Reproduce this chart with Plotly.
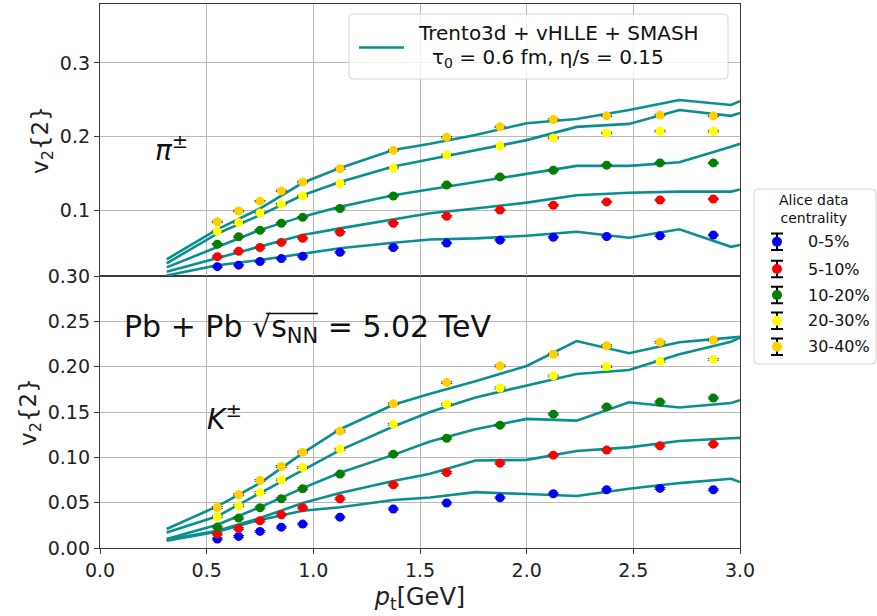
import plotly.graph_objects as go

# ---------------- data ----------------
pt_data = [0.55, 0.65, 0.75, 0.85, 0.95, 1.125, 1.375, 1.625, 1.875, 2.125, 2.375, 2.625, 2.875]
pt_model = [0.3125, 0.55, 0.75, 0.95, 1.125, 1.375, 1.547, 1.76, 2.0, 2.234, 2.48, 2.716, 2.958, 3.0]

centralities = ["0-5%", "5-10%", "10-20%", "20-30%", "30-40%"]
colors = ["blue", "red", "green", "yellow", "#ffd000"]

# pions, ALICE data
pi_data_0_5 = [0.023, 0.025, 0.030, 0.034, 0.037, 0.0425, 0.049, 0.055, 0.059, 0.063, 0.064, 0.065, 0.066]
pi_data_5_10 = [0.0366, 0.044, 0.049, 0.056, 0.0616, 0.0697, 0.082, 0.0914, 0.100, 0.1064, 0.111, 0.1136, 0.115]
pi_data_10_20 = [0.0534, 0.0637, 0.0724, 0.082, 0.090, 0.102, 0.119, 0.134, 0.145, 0.154, 0.161, 0.164, 0.164]
pi_data_20_30 = [0.071, 0.083, 0.096, 0.108, 0.119, 0.136, 0.157, 0.175, 0.187, 0.198, 0.2046, 0.207, 0.207]
pi_data_30_40 = [0.084, 0.0986, 0.112, 0.126, 0.138, 0.156, 0.181, 0.199, 0.213, 0.223, 0.228, 0.229, 0.228]

# pions, model
pi_model_0_5 = [0.011, 0.025, 0.032, 0.041, 0.048, 0.0556, 0.060, 0.0615, 0.065, 0.0705, 0.0624, 0.0738, 0.050, 0.0524]
pi_model_5_10 = [0.016, 0.035, 0.050, 0.066, 0.075, 0.087, 0.0955, 0.102, 0.110, 0.120, 0.1235, 0.125, 0.125, 0.128]
pi_model_10_20 = [0.022, 0.050, 0.073, 0.091, 0.1045, 0.120, 0.128, 0.138, 0.1485, 0.160, 0.160, 0.165, 0.186, 0.190]
pi_model_20_30 = [0.0276, 0.068, 0.093, 0.120, 0.138, 0.159, 0.169, 0.181, 0.195, 0.213, 0.217, 0.236, 0.228, 0.232]
pi_model_30_40 = [0.033, 0.0738, 0.102, 0.137, 0.157, 0.1815, 0.190, 0.202, 0.218, 0.2237, 0.236, 0.2495, 0.2427, 0.248]

# kaons, ALICE data
k_data_0_5 = [0.0099, 0.0128, 0.0183, 0.023, 0.0264, 0.034, 0.043, 0.0496, 0.0554, 0.0598, 0.0642, 0.0657, 0.0642]
k_data_5_10 = [0.0154, 0.0213, 0.030, 0.0367, 0.0444, 0.0543, 0.0697, 0.0833, 0.0936, 0.1024, 0.108, 0.1127, 0.1145]
k_data_10_20 = [0.0231, 0.033, 0.0444, 0.0543, 0.0653, 0.0815, 0.1035, 0.121, 0.1355, 0.1476, 0.1556, 0.161, 0.1655]
k_data_20_30 = [0.0345, 0.0466, 0.0612, 0.0752, 0.0888, 0.109, 0.1365, 0.1586, 0.1765, 0.1898, 0.200, 0.206, 0.208]
k_data_30_40 = [0.0447, 0.0587, 0.0745, 0.0899, 0.1057, 0.1289, 0.159, 0.1824, 0.2008, 0.2137, 0.2231, 0.2269, 0.2294]

# kaons, model
k_model_0_5 = [0.008, 0.018, 0.031, 0.041, 0.045, 0.053, 0.0557, 0.0616, 0.0595, 0.0573, 0.0653, 0.0716, 0.0763, 0.0727]
k_model_5_10 = [0.009, 0.019, 0.033, 0.0496, 0.0606, 0.074, 0.0818, 0.0965, 0.0972, 0.107, 0.111, 0.118, 0.121, 0.1215]
k_model_10_20 = [0.010, 0.0257, 0.045, 0.066, 0.083, 0.1027, 0.1174, 0.131, 0.1424, 0.1405, 0.1608, 0.155, 0.160, 0.163]
k_model_20_30 = [0.017, 0.035, 0.0606, 0.086, 0.108, 0.134, 0.150, 0.166, 0.179, 0.192, 0.1964, 0.2137, 0.2276, 0.232]
k_model_30_40 = [0.021, 0.046, 0.0716, 0.1046, 0.131, 0.158, 0.170, 0.184, 0.2008, 0.2283, 0.2148, 0.2269, 0.232, 0.233]

data_err = 0.001

pi_data = [pi_data_0_5, pi_data_5_10, pi_data_10_20, pi_data_20_30, pi_data_30_40]
pi_model = [pi_model_0_5, pi_model_5_10, pi_model_10_20, pi_model_20_30, pi_model_30_40]
k_data = [k_data_0_5, k_data_5_10, k_data_10_20, k_data_20_30, k_data_30_40]
k_model = [k_model_0_5, k_model_5_10, k_model_10_20, k_model_20_30, k_model_30_40]

# ---------------- geometry helpers ----------------
W, H = 877, 616
ML, MR, MT, MB = 100, 0, 4, 68
PW = W - ML - MR
PH = H - MT - MB


def px(x):
    return (x - ML) / PW


def py(y):
    return (H - MB - y) / PH


FONT = "DejaVu Sans"
TEAL = "#0a8f8f"
GRID = "#b8b8b8"
SPINE = "#3a3a3a"

fig = go.Figure()

# model lines
for vals in pi_model:
    fig.add_trace(go.Scatter(x=pt_model, y=vals, mode="lines", line=dict(color=TEAL, width=2.6),
                             xaxis="x2", yaxis="y2", showlegend=False, hoverinfo="skip"))
for vals in k_model:
    fig.add_trace(go.Scatter(x=pt_model, y=vals, mode="lines", line=dict(color=TEAL, width=2.6),
                             xaxis="x", yaxis="y", showlegend=False, hoverinfo="skip"))

# data points
for vals, c in zip(pi_data, colors):
    fig.add_trace(go.Scatter(x=pt_data, y=vals, mode="markers",
                             marker=dict(color=c, size=9, line=dict(width=0)),
                             error_y=dict(type="constant", value=data_err, color="#333", thickness=1, width=5.5),
                             xaxis="x2", yaxis="y2", showlegend=False))
for vals, c in zip(k_data, colors):
    fig.add_trace(go.Scatter(x=pt_data, y=vals, mode="markers",
                             marker=dict(color=c, size=9, line=dict(width=0)),
                             error_y=dict(type="constant", value=data_err, color="#333", thickness=1, width=5.5),
                             xaxis="x", yaxis="y", showlegend=False))

# legend glyphs for data legend (overlay axes in right margin area)
leg_y = [0.699, 0.543, 0.394, 0.247, 0.099]
fig.add_trace(go.Scatter(x=[0.187] * 5, y=leg_y, mode="markers",
                         marker=dict(color=colors, size=10, line=dict(width=0)),
                         error_y=dict(type="constant", value=0.047, color="black", thickness=2, width=6),
                         xaxis="x3", yaxis="y3", showlegend=False, hoverinfo="skip"))

axis_common = dict(showgrid=True, gridcolor=GRID, gridwidth=1, showline=True, linecolor=SPINE,
                   linewidth=1.3, mirror=True, zeroline=False, ticklen=5, automargin=False,
                   tickcolor=SPINE, tickfont=dict(family=FONT, size=19, color="#222"))

fig.update_layout(
    width=W, height=H,
    margin=dict(l=ML, r=MR, t=MT, b=MB),
    paper_bgcolor="white", plot_bgcolor="white",
    xaxis=dict(domain=[0, px(740)], range=[0, 3], anchor="y", ticks="outside",
               tickvals=[0, 0.5, 1, 1.5, 2, 2.5, 3], ticktext=["0.0", "0.5", "1.0", "1.5", "2.0", "2.5", "3.0"],
               title=dict(text="<i>p</i><sub>t</sub>[GeV]", font=dict(family=FONT, size=24, color="#222"),
                          standoff=8),
               **axis_common),
    xaxis2=dict(domain=[0, px(740)], range=[0, 3], anchor="y2", matches="x", ticks="",
                tickvals=[0, 0.5, 1, 1.5, 2, 2.5, 3], showticklabels=False,
                **axis_common),
    yaxis=dict(domain=[0, 0.5], range=[0, 0.30], anchor="x", ticks="outside",
               tickvals=[0, 0.05, 0.10, 0.15, 0.20, 0.25, 0.30],
               ticktext=["0.00", "0.05", "0.10", "0.15", "0.20", "0.25", "0.30"],
               title=dict(text="v<sub>2</sub>{2}", font=dict(family=FONT, size=23, color="#222"), standoff=4),
               **axis_common),
    yaxis2=dict(domain=[0.5, 1], range=[0.0103, 0.38], anchor="x2", ticks="outside",
                tickvals=[0.1, 0.2, 0.3], ticktext=["0.1", "0.2", "0.3"],
                title=dict(text="v<sub>2</sub>{2}", font=dict(family=FONT, size=23, color="#222"), standoff=4),
                **axis_common),
    xaxis3=dict(domain=[px(754), 1], range=[0, 1], visible=False, anchor="y3", fixedrange=True),
    yaxis3=dict(domain=[py(364), py(189)], range=[0, 1], visible=False, anchor="x3", fixedrange=True),
)


def rounded_box(x0, y0, x1, y1, r=4):
    # pixel coordinates -> paper path with rounded corners
    X0, X1 = px(x0), px(x1)
    Y0, Y1 = py(y0), py(y1)
    rx, ry = r / PW, r / PH
    top, bot = Y0, Y1
    return (f"M {X0+rx},{top} L {X1-rx},{top} Q {X1},{top} {X1},{top-ry} "
            f"L {X1},{bot+ry} Q {X1},{bot} {X1-rx},{bot} L {X0+rx},{bot} "
            f"Q {X0},{bot} {X0},{bot+ry} L {X0},{top-ry} Q {X0},{top} {X0+rx},{top} Z")


shapes = [
    dict(type="path", xref="paper", yref="paper", path=rounded_box(349, 14, 728, 79),
         line=dict(color="#d6d6d6", width=1), fillcolor="rgba(255,255,255,0.8)", layer="above"),
    dict(type="line", xref="paper", yref="paper", x0=px(359), x1=px(404), y0=py(47.5), y1=py(47.5),
         line=dict(color=TEAL, width=2.6), layer="above"),
    dict(type="path", xref="paper", yref="paper", path=rounded_box(754, 189, 876, 364),
         line=dict(color="#d6d6d6", width=1), fillcolor="white", layer="below"),
    # vinculum of the square root in the collision-system label
    dict(type="line", xref="paper", yref="paper", x0=px(266), x1=px(318), y0=py(313.5), y1=py(313.5),
         line=dict(color="#111", width=1.5), layer="above"),
]
fig.update_layout(shapes=shapes)

ann = []
ann.append(dict(xref="paper", yref="paper", x=px(416), y=py(33), xanchor="left", yanchor="middle",
                text="Trento3d + vHLLE + SMASH", showarrow=False,
                font=dict(family=FONT, size=20, color="#111")))
ann.append(dict(xref="paper", yref="paper", x=px(430), y=py(58), xanchor="left", yanchor="middle",
                text="τ<sub>0</sub> = 0.6 fm, η/s = 0.15", showarrow=False,
                font=dict(family=FONT, size=20, color="#111")))
ann.append(dict(xref="paper", yref="paper", x=px(814), y=py(209), xanchor="center", yanchor="middle",
                text="Alice data<br>centrality", showarrow=False,
                font=dict(family=FONT, size=14, color="#111")))
leg_py = [241.7, 269, 295, 320.7, 346.7]
for lab, yy in zip(centralities, leg_py):
    ann.append(dict(xref="paper", yref="paper", x=px(806), y=py(yy), xanchor="left", yanchor="middle",
                    text=lab, showarrow=False, font=dict(family=FONT, size=16, color="#111")))

# panel labels
ann.append(dict(xref="x2", yref="y2", x=0.25, y=0.184, xanchor="left", yanchor="middle",
                text="<i>π</i><sup>±</sup>", showarrow=False, font=dict(family=FONT, size=28, color="#111")))
ann.append(dict(xref="x", yref="y", x=0.49, y=0.1435, xanchor="left", yanchor="middle",
                text="<i>K</i><sup>±</sup>", showarrow=False, font=dict(family=FONT, size=28, color="#111")))
ann.append(dict(xref="x", yref="y", x=0.105, y=0.2426, xanchor="left", yanchor="middle",
                text="Pb + Pb √s<sub>NN</sub> = 5.02 TeV",
                showarrow=False, font=dict(family=FONT, size=30, color="#111")))
fig.update_layout(annotations=ann)

fig.write_html("out.html")
